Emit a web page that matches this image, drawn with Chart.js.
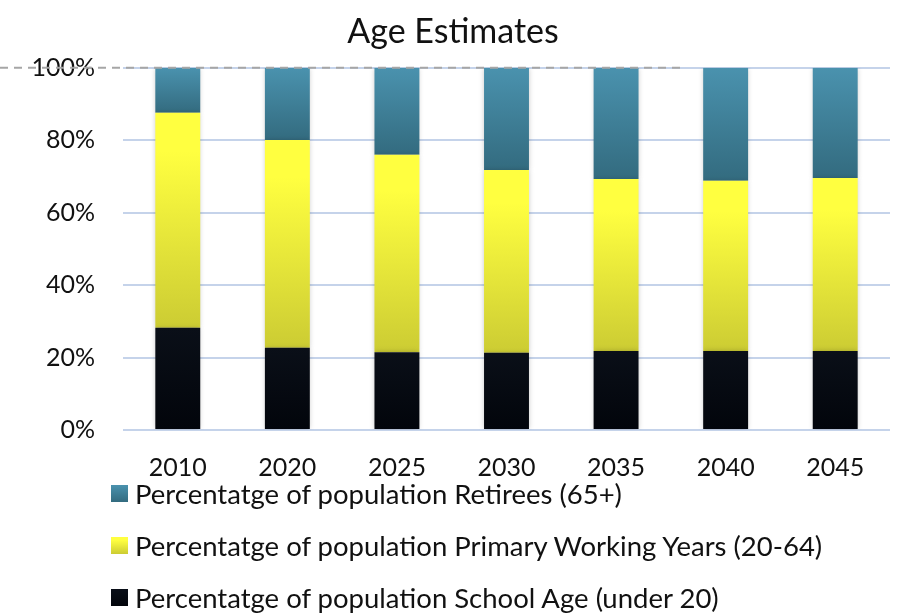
<!DOCTYPE html>
<html>
<head>
<meta charset="utf-8">
<script src="https://cdn.jsdelivr.net/npm/chart.js@4"></script>
<style>
  html, body { margin: 0; padding: 0; background: #fff; }
  body { width: 906px; height: 614px; position: relative; overflow: hidden; font-family: Lato, sans-serif; }
  #wrap { position: absolute; left: 0; top: 0; width: 906px; height: 480px; }
  #legend { position: absolute; left: 111px; top: 467px; }
  .lg-item { display: flex; align-items: center; height: 52px; font-size: 27.5px; color: #111; }
  .lg-box { width: 17px; height: 17px; margin-right: 7px; }
</style>
</head>
<body>
<div id="wrap"><canvas id="ageChart"></canvas></div>
<div id="legend"></div>
<script>
// Age Estimates - stacked 100% columns
const years = ['2010', '2020', '2025', '2030', '2035', '2040', '2045'];
const schoolAge = [28.2, 22.7, 21.5, 21.3, 21.8, 21.8, 21.8];
const workingYears = [59.4, 57.4, 54.5, 50.5, 47.5, 47.0, 47.8];
const retirees = [12.4, 19.9, 24.0, 28.2, 30.7, 31.2, 30.4];
const yTicks = [0, 20, 40, 60, 80, 100];

const seriesLabels = {
  school: 'Percentatge of population School Age (under 20)',
  working: 'Percentatge of population Primary Working Years (20-64)',
  retirees: 'Percentatge of population Retirees (65+)',
};

// gradient stops per series (top -> bottom)
const stops = {
  school: [[0, '#0a0f18'], [1, '#02050b']],
  working: [[0, '#ffff40'], [0.18, '#ffff40'], [1, '#cccc33']],
  retirees: [[0, '#4a92ae'], [1, '#336b7f']],
};

function segmentFill(key) {
  return (ctx) => {
    const chart = ctx.chart;
    const s = stops[key];
    if (ctx.type !== 'data' || !chart.chartArea) return s[s.length - 1][1];
    const y = chart.scales.y;
    let base = 0;
    for (let i = 0; i < ctx.datasetIndex; i++) base += chart.data.datasets[i].data[ctx.dataIndex];
    const top = base + chart.data.datasets[ctx.datasetIndex].data[ctx.dataIndex];
    const g = chart.ctx.createLinearGradient(0, y.getPixelForValue(top), 0, y.getPixelForValue(base));
    s.forEach(([o, c]) => g.addColorStop(o, c));
    return g;
  };
}

const barShadow = {
  id: 'barShadow',
  beforeDatasetsDraw(chart) {
    const c = chart.ctx;
    c.save();
    c.shadowColor = 'rgba(0,0,0,0.22)';
    c.shadowBlur = 5;
  },
  afterDatasetsDraw(chart) {
    chart.ctx.restore();
  }
};

// grey dashed line along the 100% level
const topDash = {
  id: 'topDash',
  afterDatasetsDraw(chart) {
    const c = chart.ctx;
    const yy = chart.scales.y.getPixelForValue(100);
    c.save();
    c.strokeStyle = '#a6a6a6';
    c.lineWidth = 2;
    c.setLineDash([8, 6]);
    c.beginPath();
    c.moveTo(0, yy);
    c.lineTo(chart.width * 0.752, yy);
    c.stroke();
    c.restore();
  }
};

const chart = new Chart(document.getElementById('ageChart'), {
  type: 'bar',
  data: {
    labels: years,
    datasets: [
      { key: 'school', label: seriesLabels.school, data: schoolAge, backgroundColor: segmentFill('school') },
      { key: 'working', label: seriesLabels.working, data: workingYears, backgroundColor: segmentFill('working') },
      { key: 'retirees', label: seriesLabels.retirees, data: retirees, backgroundColor: segmentFill('retirees') },
    ]
  },
  options: {
    responsive: true,
    maintainAspectRatio: false,
    animation: false,
    layout: { padding: { left: 16, right: 16, top: 0, bottom: 0 } },
    datasets: { bar: { categoryPercentage: 1, barPercentage: 0.41, borderWidth: 0 } },
    plugins: {
      legend: { display: false },
      tooltip: { enabled: false },
      title: {
        display: true,
        text: 'Age Estimates',
        color: '#111',
        font: { family: 'Lato', size: 34, weight: 'normal' },
        padding: { top: 12, bottom: 15 }
      }
    },
    scales: {
      x: {
        stacked: true,
        grid: { display: false },
        border: { display: false },
        ticks: { color: '#111', font: { family: 'Lato', size: 25 }, padding: 15 },
        afterFit: (s) => { s.height = 50; }
      },
      y: {
        stacked: true,
        min: 0,
        max: 100,
        afterBuildTicks: (s) => { s.ticks = yTicks.map(v => ({ value: v })); },
        grid: { color: '#c5d3ea', lineWidth: 2, drawTicks: false },
        border: { display: false },
        ticks: { color: '#111', font: { family: 'Lato', size: 25 }, padding: 28, callback: v => v + '%' },
        afterFit: (s) => { s.width = 107; }
      }
    }
  },
  plugins: [barShadow, topDash]
});

// legend (top series first, as in the original)
const lg = document.getElementById('legend');
[...chart.data.datasets].reverse().forEach(ds => {
  const s = stops[ds.key];
  const item = document.createElement('div');
  item.className = 'lg-item';
  const box = document.createElement('span');
  box.className = 'lg-box';
  box.style.background = 'linear-gradient(to bottom, ' + s.map(([o, c]) => c + ' ' + (o * 100) + '%').join(', ') + ')';
  const txt = document.createElement('span');
  txt.textContent = ds.label;
  item.appendChild(box);
  item.appendChild(txt);
  lg.appendChild(item);
});
</script>
</body>
</html>
